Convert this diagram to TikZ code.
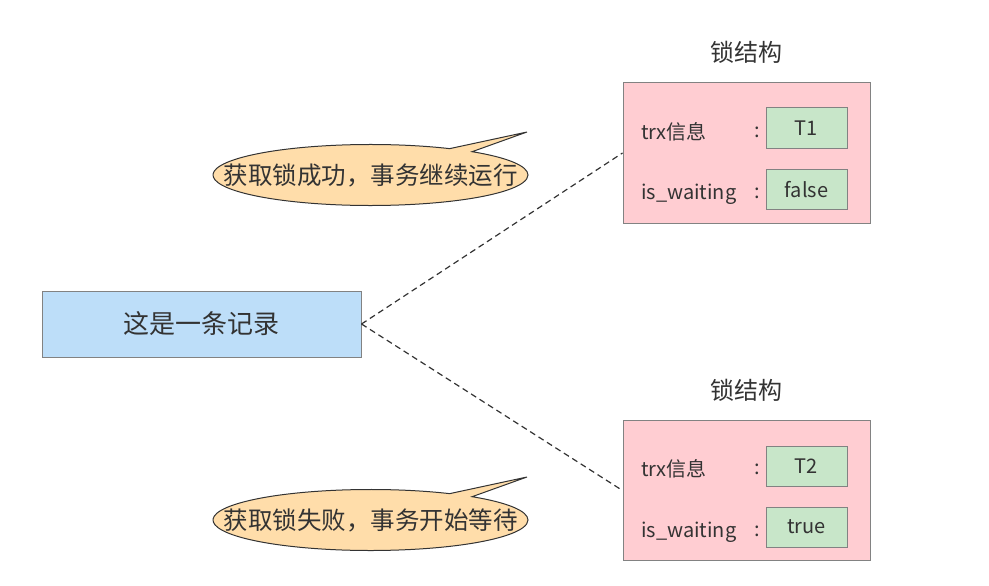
\documentclass[tikz,border=0pt]{standalone}
\usepackage{fontspec}
\setmainfont{Noto Sans CJK SC}
\usetikzlibrary{shapes.callouts}
\definecolor{recblue}{RGB}{189,222,249}
\definecolor{lockpink}{RGB}{255,205,210}
\definecolor{valgreen}{RGB}{200,230,201}
\definecolor{peach}{RGB}{255,221,170}
\definecolor{txt}{RGB}{51,51,51}
\definecolor{edge}{RGB}{130,130,130}
\tikzset{
  recbox/.style={draw=edge,line width=1pt,fill=recblue,minimum width=319pt,minimum height=66pt,inner sep=0pt,text=txt,font=\fontsize{26}{30}\selectfont},
  lockbox/.style={draw=edge,line width=1pt,fill=lockpink,minimum width=247pt,minimum height=140pt,inner sep=0pt},
  valbox/.style={draw=edge,line width=1pt,fill=valgreen,minimum width=81pt,minimum height=40pt,inner sep=0pt,text=txt,font=\fontsize{20}{24}\selectfont},
  fieldlabel/.style={anchor=west,inner sep=0pt,text=txt,font=\fontsize{20}{24}\selectfont},
  titlelabel/.style={inner sep=0pt,text=txt,font=\fontsize{24}{28}\selectfont},
  bubble/.style={ellipse callout,draw=txt,line width=1pt,fill=peach,minimum width=315pt,minimum height=61pt,inner sep=0pt,callout pointer arc=10},
  bubbletext/.style={inner sep=0pt,text=txt,font=\fontsize{24.5}{28}\selectfont},
  link/.style={draw=txt,line width=1.2pt,dash pattern=on 6pt off 4pt}
}
\begin{document}
\begin{tikzpicture}[x=1pt,y=-1pt]
\useasboundingbox (0,0) rectangle (989,586);
% record
\node[recbox] (rec) at (201.5,324) {这是一条记录};
% top lock
\node[titlelabel] (t1title) at (746,52) {锁结构};
\node[lockbox] (lock1) at (746.5,153) {};
\node[fieldlabel] (trx1) at (641,132) {trx信息};
\node[fieldlabel] (col1a) at (754,132) {:};
\node[valbox] (v1) at (806.5,128) {T1};
\node[fieldlabel] (wait1) at (641,194) {is\_waiting};
\node[fieldlabel] (col1b) at (754,193) {:};
\node[valbox] (v2) at (806.5,189.5) {false};
% bottom lock
\node[titlelabel] (t2title) at (746,390) {锁结构};
\node[lockbox] (lock2) at (746.5,490.5) {};
\node[fieldlabel] (trx2) at (641,469) {trx信息};
\node[fieldlabel] (col2a) at (754,469) {:};
\node[valbox] (v3) at (806.5,466) {T2};
\node[fieldlabel] (wait2) at (641,532) {is\_waiting};
\node[fieldlabel] (col2b) at (754,531) {:};
\node[valbox] (v4) at (806.5,527) {true};
% bubbles
\coordinate (tip1) at (527,132);
\coordinate (tip2) at (527,477);
\node[bubble,callout absolute pointer={(tip1)}] (b1) at (370.5,175) {};
\node[bubbletext] (b1t) at (b1.center) {获取锁成功，事务继续运行};
\node[bubble,callout absolute pointer={(tip2)}] (b2) at (370.5,520) {};
\node[bubbletext] (b2t) at (b2.center) {获取锁失败，事务开始等待};
% links
\draw[link] (rec.east) -- (lock1.west);
\draw[link] (rec.east) -- (lock2.west);
\end{tikzpicture}
\end{document}
